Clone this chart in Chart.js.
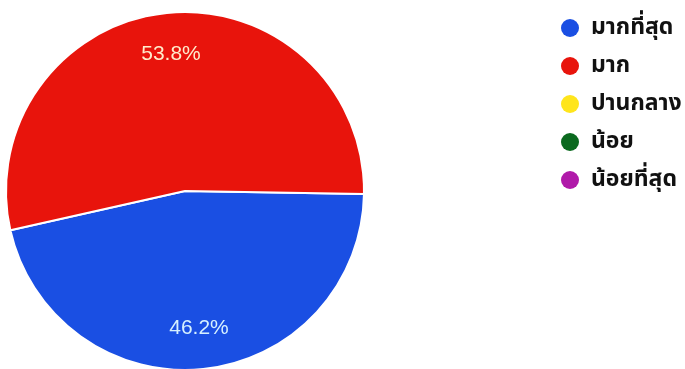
<!DOCTYPE html>
<html>
<head>
<meta charset="utf-8">
<script src="https://cdn.jsdelivr.net/npm/chart.js@4"></script>
<style>
  body { margin: 0; background: #fff; }
  #wrap { position: relative; width: 685px; height: 369px; overflow: hidden; }
  #legend { position: absolute; left: 561px; top: 14px; margin: 0; padding: 0; list-style: none;
    font-family: 'Noto Sans Thai', 'Noto Sans', sans-serif; font-size: 23px; font-weight: bold; color: #111; }
  #legend li { height: 38px; line-height: 27px; display: flex; align-items: flex-start; }
  #legend span.dot { width: 18px; height: 18px; border-radius: 50%; margin: 5px 12px 0 0; flex: none; }
</style>
</head>
<body>
<div id="wrap">
  <canvas id="pieChart" width="685" height="380"></canvas>
  <ul id="legend"></ul>
</div>
<script>
// Data
const labels = ['มากที่สุด', 'มาก', 'ปานกลาง', 'น้อย', 'น้อยที่สุด'];
const percents = [46.2, 53.8, 0, 0, 0];
const colors = ['#1a4fe3', '#e8140c', '#ffe51c', '#0b6a1f', '#b01aa9'];
const labelColors = ['#d6f0ff', '#ffeccc'];

// percentage text on each slice
const sliceLabels = {
  id: 'sliceLabels',
  afterDatasetsDraw(chart) {
    const c = chart.ctx;
    const meta = chart.getDatasetMeta(0);
    c.save();
    c.font = '500 21px "Liberation Sans", Arial, sans-serif';
    c.textAlign = 'center';
    c.textBaseline = 'middle';
    meta.data.forEach((arc, i) => {
      const v = percents[i];
      if (!v) return;
      const p = arc.getProps(['x', 'y', 'startAngle', 'endAngle', 'outerRadius'], true);
      const mid = (p.startAngle + p.endAngle) / 2;
      const r = p.outerRadius * 0.77;
      c.fillStyle = labelColors[i] || '#fff';
      c.fillText(v.toFixed(1) + '%', p.x + Math.cos(mid) * r, p.y + Math.sin(mid) * r);
    });
    c.restore();
  }
};

// canvas is a bit taller than the frame so the pie runs off the bottom edge
const ctx = document.getElementById('pieChart').getContext('2d');
const pieChart = new Chart(ctx, {
  type: 'pie',
  data: {
    labels: labels,
    datasets: [{
      data: percents,
      backgroundColor: colors,
      borderColor: '#ffffff',
      borderWidth: 2,
    }]
  },
  options: {
    responsive: false,
    animation: false,
    rotation: 91,
    layout: { padding: { left: 5, top: 11, right: 320, bottom: 9 } },
    plugins: {
      legend: { display: false },
      tooltip: { enabled: false },
    },
  },
  plugins: [sliceLabels]
});

// HTML legend
const legendEl = document.getElementById('legend');
labels.forEach((name, i) => {
  const li = document.createElement('li');
  const dot = document.createElement('span');
  dot.className = 'dot';
  dot.style.background = colors[i];
  li.appendChild(dot);
  li.appendChild(document.createTextNode(name));
  legendEl.appendChild(li);
});
</script>
</body>
</html>
